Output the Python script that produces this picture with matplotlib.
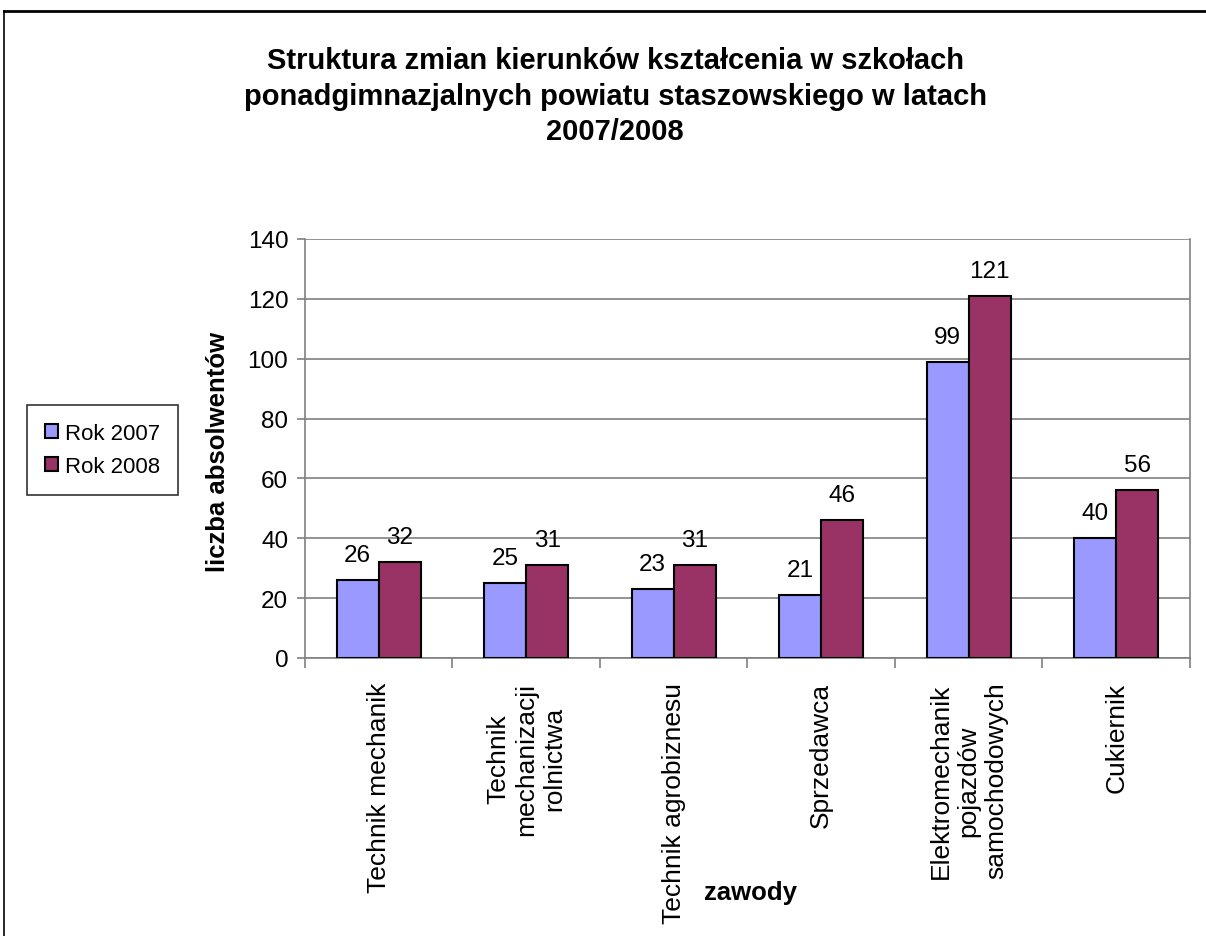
import numpy as np
import matplotlib.pyplot as plt
from matplotlib.lines import Line2D

plt.rcParams['font.family'] = ['Liberation Sans', 'DejaVu Sans']

# dane
zawody = ["Technik mechanik", "Technik\nmechanizacji\nrolnictwa", "Technik agrobiznesu",
          "Sprzedawca", "Elektromechanik\npojazdów\nsamochodowych", "Cukiernik"]
rok_2007 = [26, 25, 23, 21, 99, 40]
rok_2008 = [32, 31, 31, 46, 121, 56]
y_ticks = [0, 20, 40, 60, 80, 100, 120, 140]

kolor_2007 = '#9999FF'
kolor_2008 = '#993366'
szary = '#808080'

fig = plt.figure(figsize=(12.06, 9.37), dpi=100)
ax = fig.add_axes([0.2529, 0.2967, 0.7338, 0.4472])

x = np.arange(len(zawody))
w = 0.285
b1 = ax.bar(x - w / 2, rok_2007, w, color=kolor_2007, edgecolor='black', linewidth=1.5, label='Rok 2007', zorder=3)
b2 = ax.bar(x + w / 2, rok_2008, w, color=kolor_2008, edgecolor='black', linewidth=1.5, label='Rok 2008', zorder=3)
ax.bar_label(b1, padding=10, fontsize=17.5)
ax.bar_label(b2, padding=10, fontsize=17.5)

ax.set_xlim(-0.5, len(zawody) - 0.5)
ax.set_ylim(0, 140)
ax.set_yticks(y_ticks)
ax.tick_params(axis='y', labelsize=17.5, length=6, color=szary, width=1.2, pad=6)
ax.grid(axis='y', color=szary, linewidth=1.2, zorder=0)

ax.set_xticks(x)
ax.set_xticklabels(zawody, rotation=90, fontsize=19, ha='center', va='top', multialignment='center',
                   linespacing=1.2)
ax.tick_params(axis='x', length=0, pad=17)
ax.set_xticks(np.arange(len(zawody) + 1) - 0.5, minor=True)
ax.tick_params(axis='x', which='minor', length=7, color=szary, width=1.2)

for s in ['left', 'bottom', 'right']:
    ax.spines[s].set_color(szary)
    ax.spines[s].set_linewidth(1.2)
ax.spines['top'].set_visible(False)

fig.text(0.510, 0.950, "Struktura zmian kierunków kształcenia w szkołach\nponadgimnazjalnych powiatu staszowskiego w latach\n2007/2008",
         ha='center', va='top', fontsize=21, fontweight='bold', linespacing=1.35)
fig.text(0.1808, 0.518, "liczba absolwentów", rotation=90, ha='center', va='center', fontsize=18.5, fontweight='bold')
fig.text(0.622, 0.047, "zawody", ha='center', va='center', fontsize=18.5, fontweight='bold')

leg = fig.legend(loc='upper left', bbox_to_anchor=(0.0224, 0.5667), fontsize=16, frameon=True,
                 fancybox=False, edgecolor='black', handlelength=0.6, handleheight=0.6,
                 handletextpad=0.3, labelspacing=0.55, borderpad=0.8, borderaxespad=0)
leg.get_frame().set_linewidth(1.2)

# ramka wykresu
fig.add_artist(Line2D([4 / 1206, 4 / 1206], [0, 1 - 12 / 937], color='black', linewidth=1.2, transform=fig.transFigure))
fig.add_artist(Line2D([4 / 1206, 1], [1 - 12 / 937, 1 - 12 / 937], color='black', linewidth=2, transform=fig.transFigure))

fig.savefig('out.png', dpi=100, facecolor='white')
